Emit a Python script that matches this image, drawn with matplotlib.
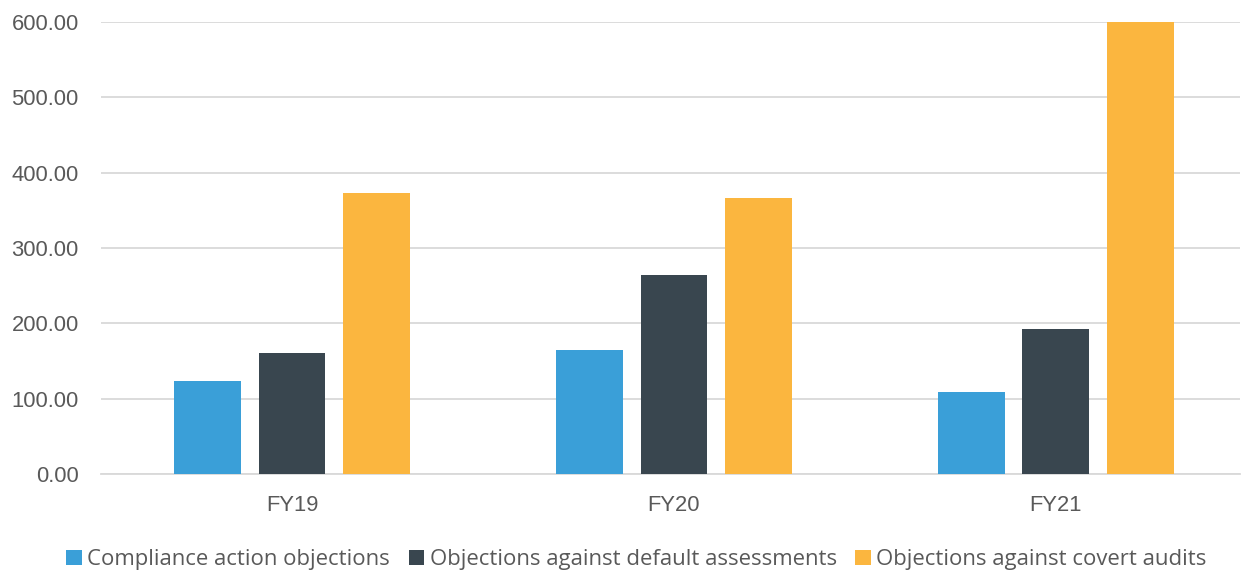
import numpy as np
import matplotlib.pyplot as plt

# Data
categories = ["FY19", "FY20", "FY21"]
series_names = ["Compliance action objections",
                "Objections against default assessments",
                "Objections against covert audits"]
compliance = [123.5, 164.5, 109.0]
default_assess = [160.5, 264.0, 192.5]
covert_audits = [373.0, 366.5, 600.0]
colors = ["#3A9FD8", "#39464F", "#FBB63F"]

TEXT = "#595959"
GRID = "#D9D9D9"

fig = plt.figure(figsize=(12.43, 5.71), dpi=100)
ax = fig.add_axes([101 / 1243, 97 / 571, 1139 / 1243, 452 / 571])

x = np.arange(len(categories))
width = 0.175
step = 0.221
for i, (vals, name) in enumerate(zip([compliance, default_assess, covert_audits], series_names)):
    ax.bar(x + (i - 1) * step, vals, width, color=colors[i], label=name, zorder=3)

ax.set_xlim(-0.5, 2.482)
ax.set_ylim(0, 600)
ax.set_yticks(np.arange(0, 601, 100))
ax.set_yticklabels([f"{v:.2f}" for v in range(0, 601, 100)])
ax.set_xticks(x)
ax.set_xticklabels(categories)

ax.grid(axis="y", color=GRID, linewidth=1.3, zorder=0)
for s in ["top", "right", "left"]:
    ax.spines[s].set_visible(False)
ax.spines["bottom"].set_color(GRID)
ax.spines["bottom"].set_linewidth(1.3)
ax.tick_params(axis="both", length=0, colors=TEXT, labelsize=15.8)
ax.tick_params(axis="y", pad=16)
ax.tick_params(axis="x", pad=15)
for lbl in ax.get_xticklabels() + ax.get_yticklabels():
    lbl.set_fontfamily("Liberation Sans")

fig.legend(loc="lower center", bbox_to_anchor=(0.512, -0.033), ncol=3, frameon=False,
           handlelength=0.7, handleheight=0.7, handletextpad=0.25, columnspacing=0.85,
           prop={"family": "Open Sans", "size": 15.9}, labelcolor=TEXT)

fig.savefig("out.png", dpi=100)
